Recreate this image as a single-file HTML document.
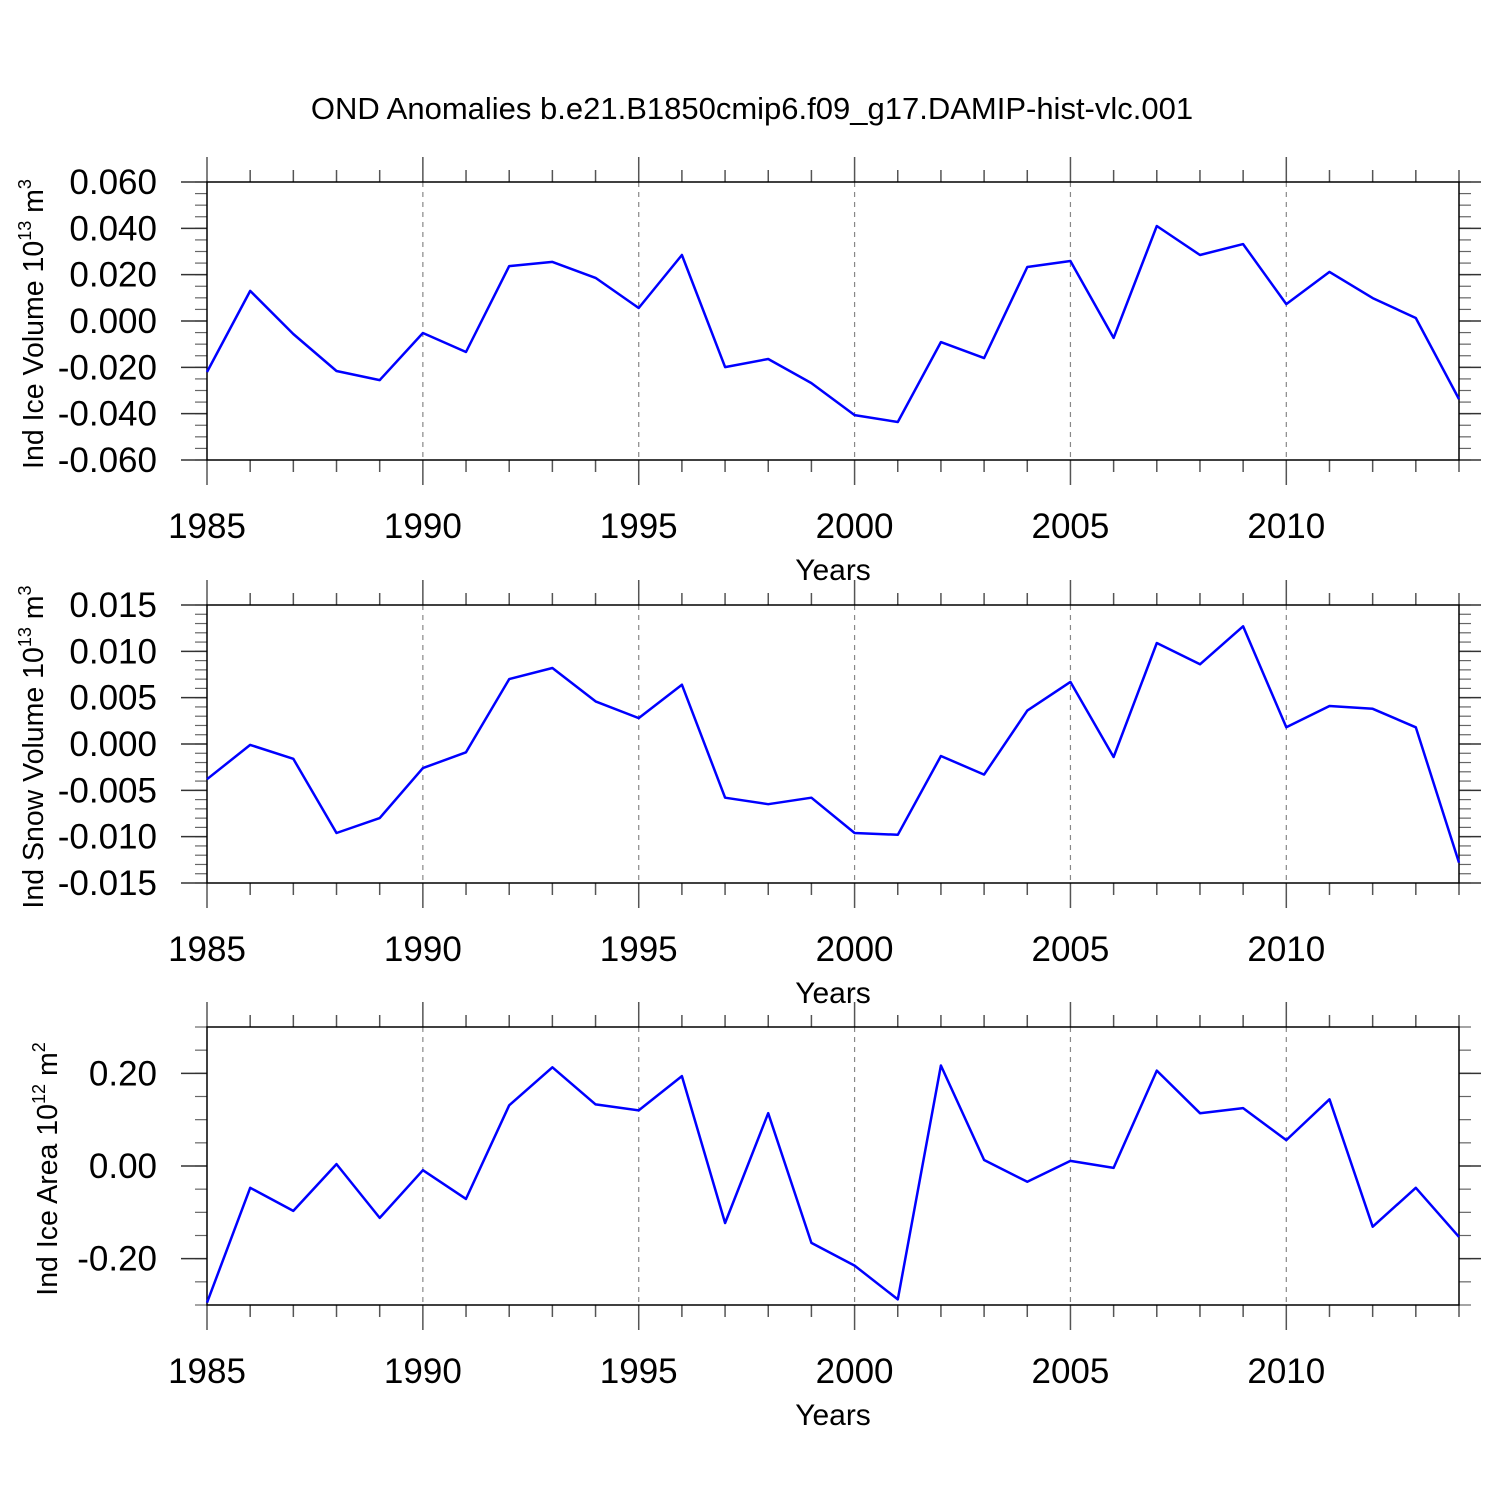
<!DOCTYPE html>
<html><head><meta charset="utf-8"><style>
html,body{margin:0;padding:0;background:#fff}
svg{display:block;font-family:"Liberation Sans",sans-serif}
</style></head><body>
<svg id="chart" width="1500" height="1500" viewBox="0 0 1500 1500" xmlns="http://www.w3.org/2000/svg">
<text x="752" y="119" font-size="31" text-anchor="middle">OND Anomalies b.e21.B1850cmip6.f09_g17.DAMIP-hist-vlc.001</text>
</svg>
<script>
const years = [1985,1986,1987,1988,1989,1990,1991,1992,1993,1994,1995,1996,1997,1998,1999,2000,2001,2002,2003,2004,2005,2006,2007,2008,2009,2010,2011,2012,2013,2014];
const iceVolume = [-0.022,0.013,-0.0056,-0.0216,-0.0255,-0.0052,-0.0134,0.0237,0.0255,0.0186,0.0056,0.0285,-0.0199,-0.0164,-0.0268,-0.0406,-0.0436,-0.0091,-0.016,0.0233,0.0259,-0.0073,0.041,0.0285,0.0332,0.0073,0.0212,0.0099,0.0013,-0.0337];
const snowVolume = [-0.0038,-0.0001,-0.0016,-0.0096,-0.008,-0.0026,-0.0009,0.007,0.0082,0.0046,0.0028,0.0064,-0.0058,-0.0065,-0.0058,-0.0096,-0.0098,-0.0013,-0.0033,0.0036,0.0067,-0.0014,0.0109,0.0086,0.0127,0.0018,0.0041,0.0038,0.0018,-0.0128];
const iceArea = [-0.295,-0.047,-0.097,0.004,-0.112,-0.009,-0.071,0.131,0.213,0.133,0.12,0.194,-0.123,0.114,-0.166,-0.215,-0.288,0.217,0.013,-0.034,0.011,-0.004,0.206,0.114,0.125,0.056,0.144,-0.131,-0.047,-0.153];
const xTickLabels = [1985,1990,1995,2000,2005,2010];
const iceVolTicks = [-0.06,-0.04,-0.02,0,0.02,0.04,0.06];
const snowVolTicks = [-0.015,-0.01,-0.005,0,0.005,0.01,0.015];
const iceAreaTicks = [-0.2,0,0.2];

const NS = 'http://www.w3.org/2000/svg';
const svg = document.getElementById('chart');
const X0 = 207, X1 = 1459;
function xScale(yr){ return X0 + (yr - 1985) * (X1 - X0) / 29; }
function mk(tag, attrs, parent){ const e = document.createElementNS(NS, tag); for (const k in attrs) e.setAttribute(k, attrs[k]); (parent||svg).appendChild(e); return e; }

const panels = [
  {key:'ice-volume', top:182, bottom:460, min:-0.06, max:0.06, ticks:iceVolTicks, minor:0.005, dec:3, data:iceVolume, label:'Ind Ice Volume 10', sup:'13', unit:' m', usup:'3', lx:43},
  {key:'snow-volume', top:605, bottom:883, min:-0.015, max:0.015, ticks:snowVolTicks, minor:0.001, dec:3, data:snowVolume, label:'Ind Snow Volume 10', sup:'13', unit:' m', usup:'3', lx:43},
  {key:'ice-area', top:1027, bottom:1305, min:-0.3, max:0.3, ticks:iceAreaTicks, minor:0.05, dec:2, data:iceArea, label:'Ind Ice Area 10', sup:'12', unit:' m', usup:'2', lx:57}
];

panels.forEach(p => {
  const g = mk('g', {});
  
  
  const yScale = v => p.bottom - (v - p.min) * (p.bottom - p.top) / (p.max - p.min);
  xTickLabels.slice(1).forEach(yr => {
    const l = mk('line', {x1:xScale(yr), x2:xScale(yr), y1:p.top, y2:p.bottom, stroke:'#888', 'stroke-width':1.2, 'stroke-dasharray':'5,5'}, g);
    
    
  });
  years.forEach(yr => {
    const major = xTickLabels.includes(yr);
    const len = major ? 25 : 12;
    const x = xScale(yr);
    mk('line', {x1:x, x2:x, y1:p.top, y2:p.top - len, stroke:'#555', 'stroke-width':1.5}, g);
    mk('line', {x1:x, x2:x, y1:p.bottom, y2:p.bottom + len, stroke:'#555', 'stroke-width':1.5}, g);
    if (major) {
      const t = mk('text', {x:x, y:p.bottom + 78, 'font-size':35, 'text-anchor':'middle'}, g);
      
      
      t.textContent = yr;
    }
  });
  const n = Math.round((p.max - p.min) / p.minor);
  for (let i = 0; i <= n; i++) {
    const v = p.min + i * p.minor;
    const y = yScale(v);
    mk('line', {x1:X0, x2:X0 - 12, y1:y, y2:y, stroke:'#666', 'stroke-width':1.2}, g);
    mk('line', {x1:X1, x2:X1 + 12, y1:y, y2:y, stroke:'#666', 'stroke-width':1.2}, g);
  }
  p.ticks.forEach(v => {
    const y = yScale(v);
    mk('line', {x1:X0, x2:X0 - 26, y1:y, y2:y, stroke:'#333', 'stroke-width':1.5}, g);
    mk('line', {x1:X1, x2:X1 + 22, y1:y, y2:y, stroke:'#333', 'stroke-width':1.5}, g);
    const t = mk('text', {x:157, y:y + 12, 'font-size':35, 'text-anchor':'end'}, g);
    
    
    t.textContent = v.toFixed(p.dec);
  });
  const fr = mk('rect', {x:X0, y:p.top, width:X1 - X0, height:p.bottom - p.top, fill:'none', stroke:'#000', 'stroke-width':1.5}, g);
  
  
  const pts = p.data.map((v, i) => xScale(years[i]).toFixed(1) + ',' + yScale(v).toFixed(1)).join(' ');
  const pl = mk('polyline', {points:pts, fill:'none', stroke:'#0000ff', 'stroke-width':2.5, 'stroke-linejoin':'round'}, g);
  
  
  const xt = mk('text', {x:833, y:p.bottom + 120, 'font-size':30, 'text-anchor':'middle'}, g);
  
  
  xt.textContent = 'Years';
  const cy = (p.top + p.bottom) / 2 + 3;
  const yt = mk('text', {x:0, y:0, 'font-size':28.5, 'text-anchor':'middle', transform:'translate(' + p.lx + ',' + cy + ') rotate(-90)'}, g);
  
  
  yt.appendChild(document.createTextNode(p.label));
  const s1 = mk('tspan', {'font-size':18, dy:-12}, yt); s1.textContent = p.sup;
  const s2 = mk('tspan', {dy:12}, yt); s2.textContent = p.unit;
  const s3 = mk('tspan', {'font-size':18, dy:-12}, yt); s3.textContent = p.usup;
});
</script>
</body></html>
